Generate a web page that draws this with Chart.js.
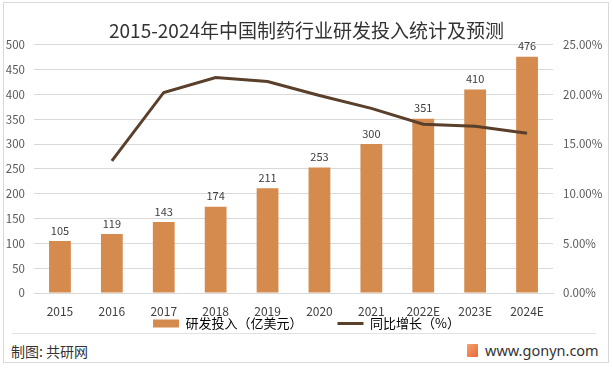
<!DOCTYPE html>
<html>
<head>
<meta charset="utf-8">
<script src="https://cdn.jsdelivr.net/npm/chart.js@4.4.1/dist/chart.umd.min.js"></script>
<style>
  body{margin:0;background:#fff;font-family:"Noto Sans CJK SC","Noto Sans",sans-serif;}
  #wrap{position:relative;width:613px;height:368px;overflow:hidden;background:#fff;}
  #frame{position:absolute;left:3px;top:2px;width:604px;height:359px;border:1px solid #d9d9d9;}
  #sep{position:absolute;left:12px;top:333px;width:584px;height:1px;background:#e2e2e2;}
  #box{position:absolute;left:0;top:0;width:613px;height:340px;}
  #src{position:absolute;left:11px;top:341px;font-size:14px;color:#333;}
  #site{position:absolute;left:485px;top:340px;font-size:14.5px;color:#333;font-family:"Noto Sans",sans-serif;}
  #logo{position:absolute;left:467px;top:344px;width:11px;height:13px;background:linear-gradient(135deg,#f4a36a,#e8663a);border-radius:1px;}
</style>
</head>
<body>
<div id="wrap">
  <div id="frame"></div>
  <div id="sep"></div>
  <div id="box"><canvas id="chart"></canvas></div>
  <div id="src">制图: 共研网</div>
  <div id="logo"></div>
  <div id="site">www.gonyn.com</div>
</div>
<script>
const title = "2015-2024年中国制药行业研发投入统计及预测";
const years = ["2015","2016","2017","2018","2019","2020","2021","2022E","2023E","2024E"];
const spend = [105,119,143,174,211,253,300,351,410,476];
const growth = [null,13.3,20.2,21.7,21.3,19.9,18.6,17.0,16.8,16.1];
const names = ["研发投入（亿美元）","同比增长（%）"];

const barColor = "#d58b4d";
const lineColor = "#5a3f2b";
const font = '"Noto Sans CJK SC", "Noto Sans", sans-serif';

// values above the bars
const barLabels = {
    id: "barLabels",
    afterDatasetsDraw(chart){
        let ctx = chart.ctx;
        let meta = chart.getDatasetMeta(1);
        ctx.save();
        ctx.font = "11px " + font;
        ctx.fillStyle = "#404040";
        ctx.textAlign = "center";
        ctx.textBaseline = "bottom";
        meta.data.forEach((bar,i)=>{
            ctx.fillText(spend[i], bar.x, bar.y - 5);
        });
        ctx.restore();
    }
};

new Chart(document.getElementById("chart"), {
    data: {
        labels: years,
        datasets: [
            {
                type: "line",
                label: names[1],
                data: growth,
                yAxisID: "y2",
                borderColor: lineColor,
                borderWidth: 3,
                pointRadius: 0,
                tension: 0,
                order: 0
            },
            {
                type: "bar",
                label: names[0],
                data: spend,
                yAxisID: "y",
                backgroundColor: barColor,
                barPercentage: 0.42,
                categoryPercentage: 1,
                order: 1
            }
        ]
    },
    options: {
        responsive: true,
        maintainAspectRatio: false,
        animation: false,
        layout: { padding: 0 },
        plugins: {
            title: {
                display: true,
                text: title,
                color: "#333",
                font: { size: 19, family: font, weight: "normal" },
                padding: { top: 19, bottom: 3 }
            },
            legend: {
                position: "bottom",
                labels: {
                    usePointStyle: true,
                    pointStyleWidth: 26,
                    boxHeight: 8,
                    padding: 0,
                    color: "#404040",
                    font: { size: 13, family: font },
                    generateLabels(){
                        return [
                            { text: names[0] + "            ", fillStyle: barColor, strokeStyle: barColor, lineWidth: 0, pointStyle: "rect", datasetIndex: 1 },
                            { text: names[1], fillStyle: lineColor, strokeStyle: lineColor, lineWidth: 3, pointStyle: "line", datasetIndex: 0 }
                        ];
                    }
                }
            },
            tooltip: { enabled: false }
        },
        scales: {
            x: {
                grid: { display: false, drawTicks: false },
                border: { color: "#d9d9d9" },
                ticks: { color: "#404040", padding: 12, font: { size: 12, family: font, lineHeight: 1 } },
                afterFit(s){ s.height = 24; }
            },
            y: {
                position: "left",
                min: 0, max: 500,
                ticks: { stepSize: 50, color: "#595959", padding: 9, font: { size: 11.5, family: font } },
                grid: { color: "#d9d9d9", drawTicks: false },
                border: { display: false },
                afterFit(s){ s.width = 34; }
            },
            y2: {
                position: "right",
                min: 0, max: 25,
                ticks: {
                    stepSize: 5, color: "#595959", padding: 10,
                    font: { size: 11.5, family: font },
                    callback: v => v.toFixed(2) + "%"
                },
                grid: { display: false, drawTicks: false },
                border: { display: false },
                afterFit(s){ s.width = 60; }
            }
        }
    },
    plugins: [barLabels]
});
</script>
</body>
</html>
